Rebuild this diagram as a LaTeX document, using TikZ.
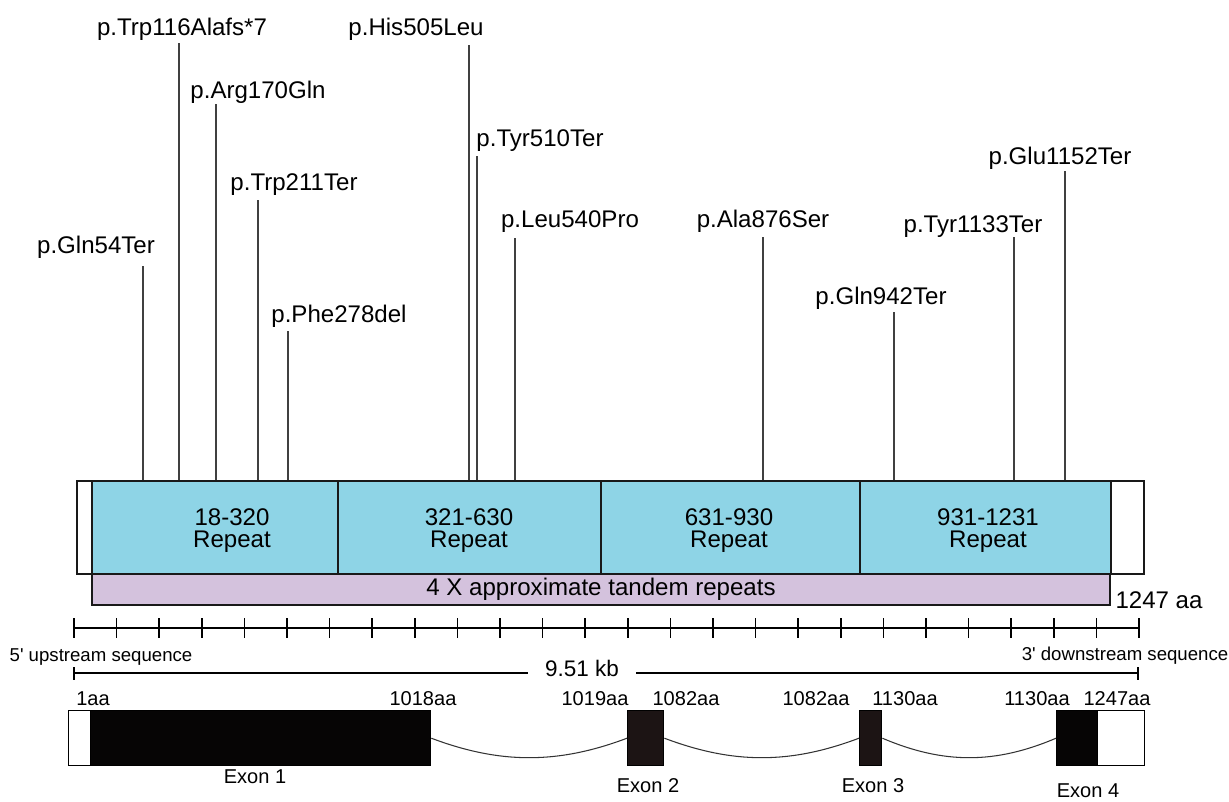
\documentclass[tikz,border=0pt]{standalone}
\usepackage{fontspec}
\setmainfont{Liberation Sans}
\usetikzlibrary{calc, positioning}
\definecolor{repblue}{HTML}{8ED4E6}
\definecolor{tandem}{HTML}{D4C2DD}
\definecolor{exonblack}{HTML}{060505}
\definecolor{exondark}{HTML}{1C1414}

\begin{document}
\begin{tikzpicture}[
    x=0.02cm, y=-0.02cm,
    line width=0.9pt,
    font=\fontsize{13.7}{12.5}\selectfont,
    barbox/.style={draw=black!90, line width=1.1pt, fill=#1, minimum height=1.86cm, anchor=north west, inner sep=0pt},
    tandembox/.style={draw=black!90, line width=1.1pt, fill=tandem, minimum height=0.62cm, anchor=north west, inner sep=0pt},
    exonbox/.style={draw=black, line width=0.8pt, fill=#1, minimum height=1.1cm, anchor=north west, inner sep=0pt},
    mut_label/.style={anchor=base, inner sep=0pt},
    mut_line/.style={draw=black!75, line width=0.6pt},
    rep_label/.style={align=center, inner sep=0pt},
    aa_label/.style={anchor=base, inner sep=0pt, font=\fontsize{11.4}{12}\selectfont},
    seq_label/.style={inner sep=0pt, font=\fontsize{10.6}{12}\selectfont},
    intron/.style={draw=black!80, line width=0.6pt}
]
    \useasboundingbox (0,0) rectangle (1229,801);

    % --- PROTEIN BAR ---
    \node[barbox=white, minimum width=21.34cm] (prot) at (76,480) {};
    \node[barbox=repblue, minimum width=4.92cm] (rep_1) at (91,480) {};
    \node[barbox=repblue, minimum width=5.26cm] (rep_2) at (337,480) {};
    \node[barbox=repblue, minimum width=5.18cm] (rep_3) at (600,480) {};
    \node[barbox=repblue, minimum width=5.02cm] (rep_4) at (859,480) {};
    \node[tandembox, minimum width=20.36cm] (tandem) at (91,573) {};

    \node[rep_label] (rep_1_txt) at (232,531) {18-320\\Repeat};
    \node[rep_label] (rep_2_txt) at (469,531) {321-630\\Repeat};
    \node[rep_label] (rep_3_txt) at (729,531) {631-930\\Repeat};
    \node[rep_label] (rep_4_txt) at (988,531) {931-1231\\Repeat};
    \node[inner sep=0pt] (tandem_txt) at (601,589) {4 X approximate tandem repeats};
    \node[inner sep=0pt] (len_txt) at (1159,600) {1247 aa};

    % --- MUTATIONS ---
    \node[mut_label] (mut_q54) at (96,253) {p.Gln54Ter};
    \coordinate (mut_q54_top) at (143,266);
    \draw[mut_line] (mut_q54_top) -- (mut_q54_top |- prot.north);

    \node[mut_label] (mut_w116) at (182,35) {p.Trp116Alafs*7};
    \coordinate (mut_w116_top) at (179,43);
    \draw[mut_line] (mut_w116_top) -- (mut_w116_top |- prot.north);

    \node[mut_label] (mut_r170) at (258,98) {p.Arg170Gln};
    \coordinate (mut_r170_top) at (216,104);
    \draw[mut_line] (mut_r170_top) -- (mut_r170_top |- prot.north);

    \node[mut_label] (mut_w211) at (294,190) {p.Trp211Ter};
    \coordinate (mut_w211_top) at (258,200);
    \draw[mut_line] (mut_w211_top) -- (mut_w211_top |- prot.north);

    \node[mut_label] (mut_f278) at (339,322) {p.Phe278del};
    \coordinate (mut_f278_top) at (288,331);
    \draw[mut_line] (mut_f278_top) -- (mut_f278_top |- prot.north);

    \node[mut_label] (mut_h505) at (416,35) {p.His505Leu};
    \coordinate (mut_h505_top) at (469,45);
    \draw[mut_line] (mut_h505_top) -- (mut_h505_top |- prot.north);

    \node[mut_label] (mut_y510) at (540,146) {p.Tyr510Ter};
    \coordinate (mut_y510_top) at (477,156);
    \draw[mut_line] (mut_y510_top) -- (mut_y510_top |- prot.north);

    \node[mut_label] (mut_l540) at (570,227) {p.Leu540Pro};
    \coordinate (mut_l540_top) at (515,238);
    \draw[mut_line] (mut_l540_top) -- (mut_l540_top |- prot.north);

    \node[mut_label] (mut_a876) at (763,227) {p.Ala876Ser};
    \coordinate (mut_a876_top) at (763,237);
    \draw[mut_line] (mut_a876_top) -- (mut_a876_top |- prot.north);

    \node[mut_label] (mut_q942) at (881,304) {p.Gln942Ter};
    \coordinate (mut_q942_top) at (894,312);
    \draw[mut_line] (mut_q942_top) -- (mut_q942_top |- prot.north);

    \node[mut_label] (mut_y1133) at (973,232) {p.Tyr1133Ter};
    \coordinate (mut_y1133_top) at (1014,237);
    \draw[mut_line] (mut_y1133_top) -- (mut_y1133_top |- prot.north);

    \node[mut_label] (mut_e1152) at (1060,164) {p.Glu1152Ter};
    \coordinate (mut_e1152_top) at (1065,171);
    \draw[mut_line] (mut_e1152_top) -- (mut_e1152_top |- prot.north);

    % --- RULER & SCALE ---
    \coordinate (ruler_l) at (74,628);
    \coordinate (ruler_r) at (1139,628);
    \draw (ruler_l) -- (ruler_r);
    \foreach \k in {0,...,25}
        \draw ($(ruler_l)+(\k*42.6,-10)$) -- ++(0,20);

    \node[seq_label] (up_txt) at (101,657) {5\textquotesingle{} upstream sequence};
    \node[seq_label] (down_txt) at (1125,656) {3\textquotesingle{} downstream sequence};

    \node[inner sep=0pt, font=\fontsize{12.8}{14}\selectfont] (kb_txt) at (582,668) {9.51 kb};
    \coordinate (kb_l) at (74,673);
    \coordinate (kb_r) at (1138,673);
    \coordinate (kb_gap_l) at (528,673);
    \coordinate (kb_gap_r) at (636,673);
    \draw (kb_l) -- (kb_gap_l);
    \draw (kb_gap_r) -- (kb_r);
    \draw (kb_l) ++(0,-6) -- ++(0,13);
    \draw (kb_r) ++(0,-6) -- ++(0,13);

    % --- GENE STRUCTURE ---
    \node[exonbox=white, minimum width=0.44cm] (utr_5) at (68,710) {};
    \node[exonbox=exonblack, minimum width=6.8cm] (exon_1) at (90,710) {};
    \node[exonbox=exondark, minimum width=0.72cm] (exon_2) at (627,710) {};
    \node[exonbox=exondark, minimum width=0.44cm] (exon_3) at (859,710) {};
    \node[exonbox=exonblack, minimum width=0.82cm] (exon_4) at (1056,710) {};
    \node[exonbox=white, minimum width=0.94cm] (utr_3) at (1097,710) {};

    % Introns
    \draw[intron] (exon_1.east) .. controls +(69,26) and +(-69,26) .. (exon_2.west);
    \draw[intron] (exon_2.east) .. controls +(69,26) and +(-69,26) .. (exon_3.west);
    \draw[intron] (exon_3.east) .. controls +(61,26) and +(-61,26) .. (exon_4.west);

    % Amino acid boundaries
    \node[aa_label] (aa_1) at (93,705) {1aa};
    \node[aa_label] (aa_1018) at (423,705) {1018aa};
    \node[aa_label] (aa_1019) at (595,705) {1019aa};
    \node[aa_label] (aa_1082a) at (686,705) {1082aa};
    \node[aa_label] (aa_1082b) at (816,705) {1082aa};
    \node[aa_label] (aa_1130a) at (905,705) {1130aa};
    \node[aa_label] (aa_1130b) at (1037,705) {1130aa};
    \node[aa_label] (aa_1247) at (1117,705) {1247aa};

    % Exon names
    \node[aa_label] (exon_1_txt) at (255,783) {Exon 1};
    \node[aa_label] (exon_2_txt) at (648,792) {Exon 2};
    \node[aa_label] (exon_3_txt) at (873,792) {Exon 3};
    \node[aa_label] (exon_4_txt) at (1088,797) {Exon 4};

\end{tikzpicture}
\end{document}
